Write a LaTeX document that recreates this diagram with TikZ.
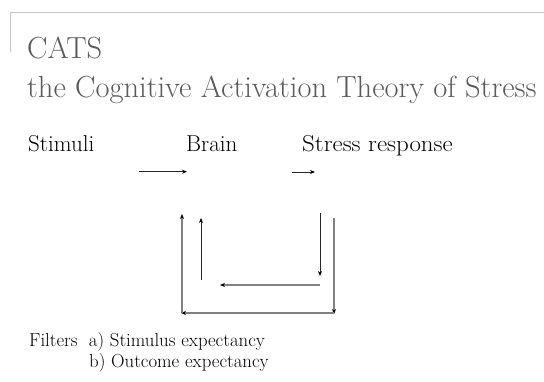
\documentclass[tikz,border=0pt]{standalone}
\usepackage{fontspec}
\usetikzlibrary{arrows.meta}
\definecolor{titlegray}{HTML}{5A5A5A}
\definecolor{framegray}{HTML}{C4C4C4}
\definecolor{linegray}{HTML}{808080}
\tikzset{
  frameline/.style={draw=framegray, line width=0.9pt},
  titletext/.style={inner sep=0pt, anchor=base west, text=titlegray, font=\fontsize{30.5}{34}\selectfont},
  mainlabel/.style={inner sep=0pt, anchor=base west, text=black, font=\fontsize{23}{27}\selectfont},
  filtertext/.style={inner sep=0pt, anchor=base west, text=black, font=\fontsize{18.8}{22}\selectfont},
  tip/.style={-{Stealth[length=5pt,width=4pt,color=black]}},
  thinarrow/.style={tip, draw=black!85, line width=0.8pt},
  grayarrow/.style={tip, draw=linegray, line width=1.4pt},
}
\begin{document}
\begin{tikzpicture}[x=1pt,y=-1pt]
\useasboundingbox (0,0) rectangle (544,382);
% frame
\draw[frameline] (10.7,52) -- (10.7,12.5) -- (544,12.5);
% titles
\node[titletext] (cats) at (27,59) {CATS};
\node[titletext] (sub) at (27,98) {the Cognitive Activation Theory of Stress};
% labels
\node[mainlabel] (stim) at (28,152) {Stimuli};
\node[mainlabel] (brain) at (186,152) {Brain};
\node[mainlabel] (resp) at (302,152) {\scalebox{1.085}[1]{Stress response}};
\node[filtertext] (f1) at (29,347) {Filters\ \ a) Stimulus expectancy};
\node[filtertext] (f2) at (89,367) {b) Outcome expectancy};
% arrow end points
\coordinate (a1s) at (139,171.7);
\coordinate (a1e) at (187,171.7);
\coordinate (a2s) at (292,172);
\coordinate (a2e) at (315,172);
\coordinate (ius) at (201,280);
\coordinate (iue) at (201,218);
\coordinate (ids) at (320,213);
\coordinate (ide) at (320,276);
\coordinate (mls) at (320,285);
\coordinate (mle) at (220,285);
\coordinate (ors) at (334,218);
\coordinate (ore) at (334,314);
\coordinate (obs) at (334,313);
\coordinate (obe) at (181,313);
\coordinate (ols) at (182,313);
\coordinate (ole) at (182,214);
% arrows
\draw[thinarrow] (a1s) -- (a1e);
\draw[thinarrow] (a2s) -- (a2e);
\draw[thinarrow] (ius) -- (iue);
\draw[thinarrow] (ids) -- (ide);
\draw[grayarrow] (mls) -- (mle);
\draw[grayarrow] (ors) -- (ore);
\draw[grayarrow] (obs) -- (obe);
\draw[grayarrow] (ols) -- (ole);
\end{tikzpicture}
\end{document}
